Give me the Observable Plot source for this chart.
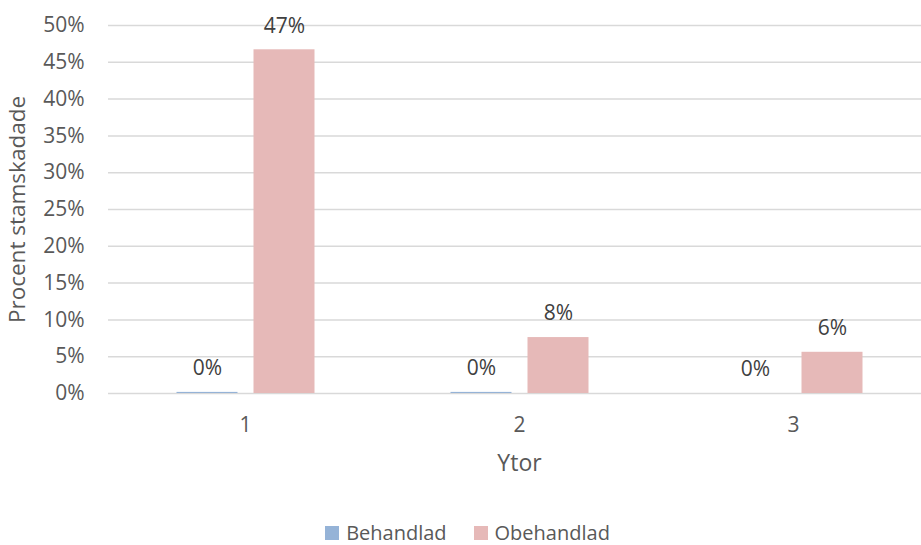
<!DOCTYPE html>
<html>
<head>
<meta charset="utf-8">
<script src="https://cdn.jsdelivr.net/npm/d3@7"></script>
<script src="https://cdn.jsdelivr.net/npm/@observablehq/plot@0.6"></script>
<style>
  html, body { margin: 0; padding: 0; background: #fff; overflow: hidden; }
  #chart { width: 921px; font-family: "Open Sans", sans-serif; color: #595959; }
  #chart svg { display: block; }
  .lg-swatches-wrap { justify-content: center; min-height: 0 !important; height: 20px; margin-top: 18px !important; margin-bottom: 0 !important; padding-left: 14px; line-height: 20px; }
  .lg-swatch { margin-right: 27px !important; line-height: 20px; }
  .lg-swatch:last-child { margin-right: 0 !important; }
  .lg-swatch > svg { margin-right: 7px !important; }
</style>
</head>
<body>
<div id="chart"></div>
<script>
// Ytor (surfaces) and treatment groups
const ytor = ["1", "2", "3"];
const serier = ["Behandlad", "Obehandlad"];

// Share of damaged stems per group
const behandlad = [0.0015, 0.0015, 0];
const obehandlad = [0.467, 0.076, 0.056];

// Y-axis ticks and series colours
const yTicks = [0, 0.05, 0.10, 0.15, 0.20, 0.25, 0.30, 0.35, 0.40, 0.45, 0.50];
const farger = ["#95b3d7", "#e6b9b8"];

const rows = ytor.flatMap((y, i) => [
  {yta: y, serie: serier[0], value: behandlad[i]},
  {yta: y, serie: serier[1], value: obehandlad[i]}
]);

const pct = d3.format(".0%");

const chart = Plot.plot({
  width: 921,
  height: 505,
  marginTop: 25,
  marginBottom: 112,
  marginLeft: 107.5,
  marginRight: 0,
  style: {fontFamily: "Open Sans, sans-serif", fontSize: "21px", color: "#595959", background: "#fff", overflow: "visible"},
  fx: {domain: ytor, range: [107.5, 929.5], padding: 0},
  x: {domain: serier, paddingInner: 0.21, paddingOuter: 0.873, axis: null},
  y: {domain: [0, 0.5]},
  color: {domain: serier, range: farger},
  marks: [
    Plot.gridY(yTicks, {stroke: "#d9d9d9", strokeOpacity: 1, strokeWidth: 1.5}),
    // tick labels
    Plot.axisY(yTicks, {tickFormat: pct, tickSize: 0, tickPadding: 24, fontSize: 21, label: null}),
    Plot.axisFx({anchor: "bottom", tickSize: 0, tickPadding: 24, fontSize: 21, label: null}),
    // axis titles
    Plot.axisY({
      ticks: [], label: "Procent stamskadade", labelAnchor: "center", labelOffset: 99,
      labelArrow: "none", fontSize: 22.5
    }),
    Plot.axisFx({
      anchor: "bottom", ticks: [], label: "Ytor", labelAnchor: "center", labelOffset: 77,
      labelArrow: "none", fontSize: 23
    }),
    Plot.barY(rows, {fx: "yta", x: "serie", y: "value", fill: "serie"}),
    Plot.text(rows, {fx: "yta", x: "serie", y: "value", text: d => pct(d.value), dy: -24, fill: "#404040", fontSize: 21})
  ]
});

const legend = Plot.legend({
  className: "lg",
  color: {domain: serier, range: farger},
  swatchSize: 14,
  style: {fontFamily: "Open Sans, sans-serif", fontSize: "20px", color: "#595959"}
});

const root = document.getElementById("chart");
root.append(chart, legend);
</script>
</body>
</html>
